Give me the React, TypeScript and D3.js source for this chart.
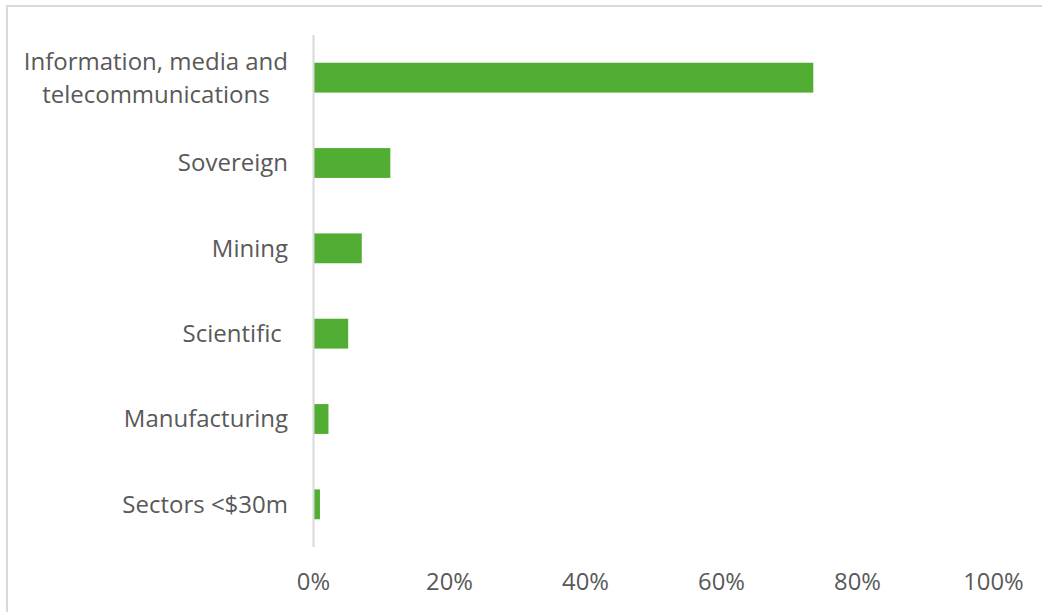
import React, { useEffect, useLayoutEffect, useRef, useState } from "react";
import * as d3 from "d3";

const categories: string[][] = [
  ["Information, media and", "telecommunications"],
  ["Sovereign"],
  ["Mining"],
  ["Scientific "],
  ["Manufacturing"],
  ["Sectors <$30m"],
];
const values: number[] = [0.735, 0.113, 0.071, 0.051, 0.022, 0.0095];
const ticks: number[] = [0, 0.2, 0.4, 0.6, 0.8, 1.0];

const W = 1042;
const H = 612;
const FONT = "'Open Sans', sans-serif";
const TEXT = "#595959";
const GRID = "#d9d9d9";
const BAR = "#52ae32";
const FS_LABEL = 24;
const FS_TICK = 23.8;
const LABEL_RIGHT = 288;

export default function App() {
  useEffect(() => {
    document.body.style.margin = "0";
  }, []);

  const gRef = useRef<SVGGElement>(null);
  const [widths, setWidths] = useState<number[]>(categories.map(() => 0));

  useLayoutEffect(() => {
    if (!gRef.current) return;
    const ws = categories.map((_, i) => {
      const t = gRef.current!.querySelector(`[data-i="${i}"]`) as SVGTextElement | null;
      return t ? t.getBBox().width : 0;
    });
    setWidths(ws);
  }, []);

  const x = d3.scaleLinear().domain([0, 1]).range([313.5, 993.5]);
  const keys = categories.map((c) => c.join(" "));
  const y = d3.scaleBand<string>().domain(keys).range([35, 547]).paddingInner(0.65).paddingOuter(0.325);
  const fmt = d3.format(".0%");

  return (
    <svg width={W} height={H} style={{ display: "block", background: "#fff" }}>
      <line x1={7} x2={W} y1={6} y2={6} stroke={GRID} strokeWidth={2} />
      <line x1={7} x2={7} y1={5} y2={H} stroke={GRID} strokeWidth={2} />
      {values.map((v, i) => (
        <rect
          key={i}
          x={x(0)}
          y={y(keys[i])}
          width={x(v) - x(0)}
          height={y.bandwidth()}
          fill={BAR}
        />
      ))}
      <line x1={x(0)} x2={x(0)} y1={35} y2={547} stroke={GRID} strokeWidth={2} />
      <g ref={gRef}>
        {categories.map((lines, i) => {
          const cy = (y(keys[i]) as number) + y.bandwidth() / 2;
          const lh = 33;
          const y0 = cy - ((lines.length - 1) * lh) / 2;
          const cx = LABEL_RIGHT - widths[i] / 2;
          return (
            <text
              key={i}
              data-i={i}
              textAnchor="middle"
              fontFamily={FONT}
              fontSize={FS_LABEL}
              fill={TEXT}
              style={{ whiteSpace: "pre" }}
            >
              {lines.map((l, j) => (
                <tspan key={j} x={cx} y={y0 + j * lh} dy="0.35em">
                  {l}
                </tspan>
              ))}
            </text>
          );
        })}
      </g>
      {ticks.map((t, i) => (
        <text
          key={i}
          x={x(t)}
          y={582}
          dy="0.35em"
          textAnchor="middle"
          fontFamily={FONT}
          fontSize={FS_TICK}
          fill={TEXT}
        >
          {fmt(t)}
        </text>
      ))}
    </svg>
  );
}
